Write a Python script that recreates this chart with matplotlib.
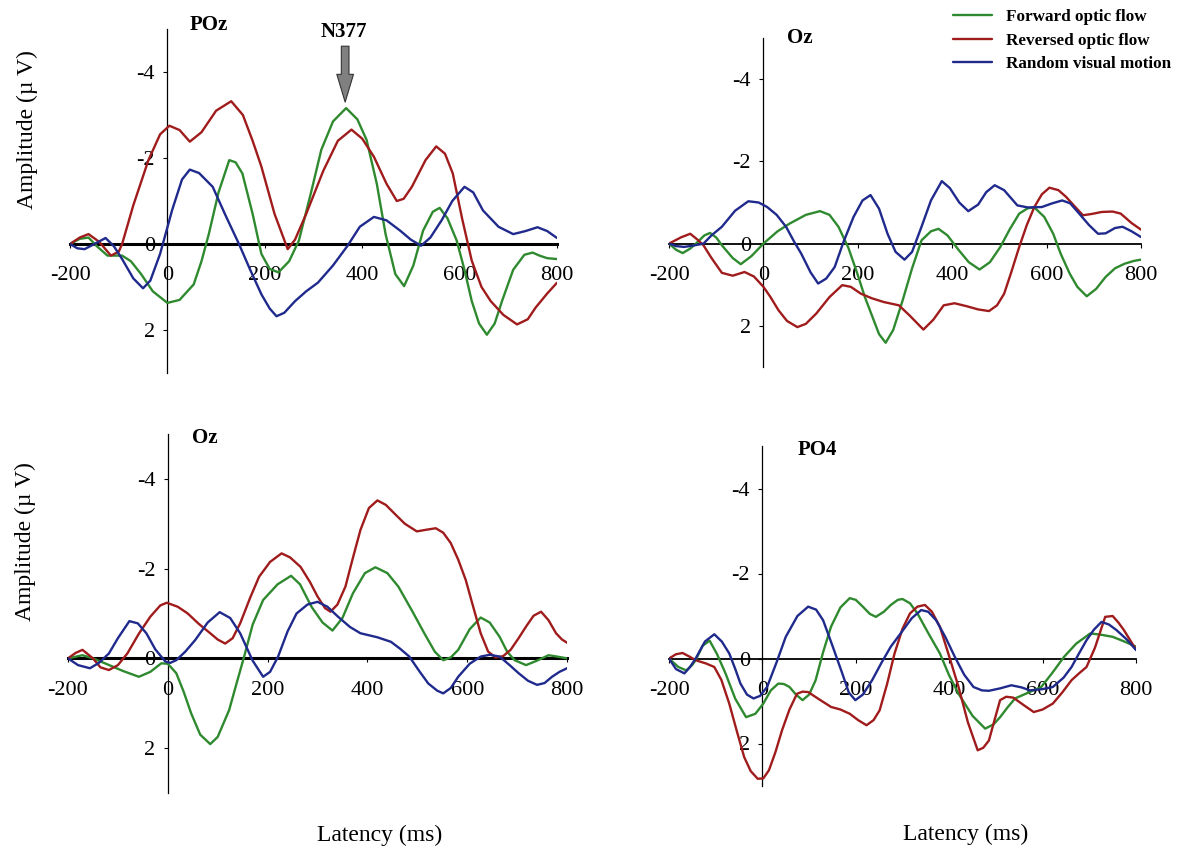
import matplotlib
matplotlib.use("Agg")
import matplotlib.pyplot as plt

plt.rcParams['font.family'] = ['Liberation Serif', 'DejaVu Serif']
plt.rcParams['axes.unicode_minus'] = False

# condition names / colours
conditions = ["Forward optic flow", "Reversed optic flow", "Random visual motion"]
colors = ["#2f8a2f", "#a01c1c", "#1f2a8c"]

x_ticks = [-200, 0, 200, 400, 600, 800]
y_ticks = [-4, -2, 0, 2]

# ---- POz (top left) ----
poz_fwd_t = [-200, -180, -162, -145, -123, -93, -75, -54, -30, 0, 25, 54, 70, 85, 105, 127, 140,
             154, 175, 193, 210, 228, 250, 270, 295, 316, 340, 367, 390, 409, 430, 448, 468, 486,
             505, 525, 545, 559, 575, 594, 610, 625, 640, 656, 672, 687, 710, 733, 750, 764, 780,
             800]
poz_fwd_v = [0, -0.12, -0.15, 0.05, 0.27, 0.27, 0.4, 0.7, 1.1, 1.37, 1.3, 0.94, 0.4, -0.23, -1.2,
             -1.95, -1.9, -1.64, -0.7, 0.23, 0.58, 0.66, 0.4, -0.08, -1.2, -2.19, -2.85, -3.16,
             -2.9, -2.42, -1.4, -0.23, 0.7, 0.98, 0.5, -0.31, -0.75, -0.84, -0.6, -0.08, 0.6,
             1.33, 1.85, 2.11, 1.85, 1.33, 0.6, 0.25, 0.2, 0.27, 0.33, 0.35]
poz_rev_t = [-200, -180, -162, -140, -116, -100, -93, -70, -39, -15, 4, 25, 46, 70, 100, 131, 155,
             175, 193, 220, 247, 262, 285, 320, 350, 378, 400, 424, 450, 471, 485, 502, 530, 552,
             570, 586, 605, 625, 645, 664, 690, 718, 740, 756, 780, 800]
poz_rev_v = [0, -0.15, -0.23, -0.05, 0.27, 0.18, 0, -0.9, -1.95, -2.55, -2.75, -2.65, -2.38, -2.6,
             -3.1, -3.32, -3.0, -2.4, -1.8, -0.7, 0.12, -0.1, -0.7, -1.7, -2.4, -2.66, -2.45,
             -2.03, -1.4, -1.0, -1.05, -1.33, -1.95, -2.27, -2.1, -1.64, -0.6, 0.39, 1.0, 1.33,
             1.65, 1.87, 1.75, 1.48, 1.15, 0.9]
poz_rnd_t = [-200, -185, -170, -150, -127, -110, -93, -70, -50, -35, -15, 10, 30, 46, 65, 93, 120,
             147, 170, 193, 210, 224, 240, 262, 285, 309, 340, 370, 395, 424, 450, 478, 500, 521,
             540, 563, 585, 610, 628, 648, 680, 710, 735, 760, 780, 800]
poz_rnd_v = [0, 0.1, 0.12, 0.0, -0.14, 0.05, 0.35, 0.8, 1.03, 0.85, 0.23, -0.8, -1.5, -1.73, -1.65,
             -1.33, -0.65, 0, 0.6, 1.17, 1.5, 1.68, 1.6, 1.33, 1.1, 0.9, 0.5, 0.04, -0.4, -0.63,
             -0.55, -0.31, -0.1, 0.04, -0.15, -0.55, -1.0, -1.33, -1.2, -0.78, -0.4, -0.23, -0.3,
             -0.39, -0.3, -0.14]

# ---- Oz (top right) ----
oz1_fwd_t = [-200, -185, -171, -155, -143, -125, -113, -100, -88, -65, -48, -25, 0, 30, 56, 90,
             120, 140, 159, 180, 199, 215, 231, 245, 259, 275, 295, 315, 335, 355, 371, 390, 414,
             435, 458, 480, 502, 522, 542, 560, 574, 595, 614, 630, 649, 665, 685, 705, 725, 745,
             765, 785, 800]
oz1_fwd_v = [0, 0.15, 0.23, 0.12, 0, -0.2, -0.26, -0.15, 0.04, 0.35, 0.5, 0.3, 0, -0.3, -0.49,
             -0.7, -0.79, -0.7, -0.41, 0.1, 0.73, 1.3, 1.78, 2.2, 2.41, 2.1, 1.38, 0.6, -0.08,
             -0.3, -0.36, -0.2, 0.16, 0.45, 0.63, 0.45, 0.08, -0.35, -0.73, -0.86, -0.88, -0.65,
             -0.24, 0.25, 0.73, 1.05, 1.28, 1.1, 0.81, 0.6, 0.49, 0.42, 0.39]
oz1_rev_t = [-200, -175, -155, -140, -127, -110, -88, -65, -40, -20, 0, 15, 32, 50, 72, 90, 112,
             140, 167, 185, 207, 230, 255, 287, 310, 339, 360, 382, 405, 430, 455, 478, 495, 510,
             525, 542, 558, 574, 590, 606, 625, 641, 660, 677, 695, 717, 740, 757, 780, 800]
oz1_rev_v = [0, -0.15, -0.24, -0.1, 0.04, 0.35, 0.71, 0.78, 0.69, 0.8, 1.05, 1.3, 1.62, 1.88, 2.03,
             1.95, 1.7, 1.3, 1.01, 1.05, 1.22, 1.33, 1.42, 1.5, 1.75, 2.09, 1.85, 1.5, 1.45, 1.52,
             1.6, 1.64, 1.5, 1.22, 0.7, 0.08, -0.45, -0.89, -1.2, -1.36, -1.3, -1.14, -0.9, -0.69,
             -0.72, -0.77, -0.78, -0.73, -0.5, -0.34]
oz1_rnd_t = [-200, -185, -168, -150, -127, -110, -88, -60, -32, -10, 8, 28, 48, 65, 80, 100, 116,
             133, 151, 170, 191, 210, 227, 245, 263, 280, 299, 315, 335, 355, 378, 395, 415, 434,
             455, 472, 490, 510, 538, 560, 590, 612, 633, 650, 669, 690, 709, 725, 745, 761, 780,
             800]
oz1_rnd_v = [0, 0.06, 0.08, 0.05, 0, -0.2, -0.41, -0.8, -1.03, -1.0, -0.89, -0.7, -0.41, -0.05,
             0.24, 0.7, 0.97, 0.85, 0.57, -0.05, -0.65, -1.05, -1.18, -0.85, -0.24, 0.2, 0.39, 0.2,
             -0.41, -1.05, -1.52, -1.35, -1.0, -0.79, -0.95, -1.25, -1.42, -1.3, -0.93, -0.88,
             -0.89, -0.98, -1.05, -0.98, -0.73, -0.45, -0.24, -0.25, -0.38, -0.41, -0.3, -0.16]

# ---- Oz (bottom left) ----
oz2_fwd_t = [-200, -171, -150, -126, -90, -58, -35, -13, 0, 17, 32, 47, 65, 85, 100, 123, 138, 153,
             170, 191, 220, 247, 265, 288, 310, 330, 350, 371, 395, 416, 440, 462, 490, 514, 535,
             552, 567, 582, 605, 627, 645, 665, 680, 695, 718, 740, 763, 780, 800]
oz2_fwd_v = [0, -0.07, 0.0, 0.11, 0.28, 0.41, 0.3, 0.11, 0.12, 0.33, 0.75, 1.23, 1.7, 1.91, 1.75,
             1.15, 0.55, -0.04, -0.75, -1.3, -1.65, -1.84, -1.65, -1.15, -0.8, -0.62, -0.9, -1.45,
             -1.9, -2.03, -1.9, -1.6, -1.05, -0.56, -0.15, 0.04, -0.02, -0.19, -0.65, -0.91, -0.8,
             -0.48, -0.15, 0.04, 0.15, 0.05, -0.07, -0.04, 0]
oz2_rev_t = [-200, -185, -171, -150, -135, -118, -100, -81, -58, -35, -15, -2, 20, 40, 62, 85, 100,
             115, 130, 145, 165, 183, 205, 228, 245, 266, 285, 300, 315, 326, 340, 356, 370, 386,
             403, 420, 437, 454, 475, 499, 520, 537, 552, 567, 582, 597, 612, 627, 642, 657, 672,
             687, 703, 718, 733, 748, 763, 778, 790, 800]
oz2_rev_v = [0, -0.12, -0.19, 0.0, 0.2, 0.26, 0.15, -0.11, -0.55, -0.93, -1.18, -1.24, -1.15,
             -1.0, -0.77, -0.56, -0.42, -0.33, -0.45, -0.78, -1.35, -1.82, -2.15, -2.34, -2.25,
             -2.04, -1.7, -1.38, -1.12, -1.04, -1.2, -1.6, -2.2, -2.86, -3.35, -3.52, -3.42, -3.23,
             -3.0, -2.83, -2.87, -2.9, -2.8, -2.57, -2.2, -1.75, -1.15, -0.56, -0.15, -0.02, -0.05,
             -0.19, -0.45, -0.71, -0.95, -1.04, -0.85, -0.56, -0.42, -0.35]
oz2_rnd_t = [-200, -180, -156, -138, -118, -100, -77, -60, -43, -25, -5, 5, 17, 35, 55, 80, 104,
             125, 145, 170, 191, 205, 221, 240, 258, 280, 300, 320, 341, 365, 386, 420, 447, 465,
             484, 505, 522, 540, 552, 567, 582, 605, 627, 645, 665, 685, 703, 722, 740, 755, 770,
             785, 800]
oz2_rnd_v = [0, 0.15, 0.22, 0.1, -0.11, -0.45, -0.83, -0.78, -0.56, -0.2, 0.07, 0.1, 0.04, -0.15,
             -0.41, -0.8, -1.03, -0.9, -0.56, 0.05, 0.41, 0.3, -0.04, -0.6, -1.0, -1.2, -1.26,
             -1.15, -0.93, -0.7, -0.56, -0.47, -0.37, -0.22, -0.04, 0.3, 0.56, 0.72, 0.78, 0.66,
             0.41, 0.12, -0.04, -0.08, -0.04, 0.15, 0.33, 0.5, 0.59, 0.55, 0.41, 0.3, 0.22]

# ---- PO4 (bottom right) ----
po4_fwd_t = [-200, -180, -163, -150, -143, -128, -113, -97, -79, -58, -35, -15, 2, 18, 34, 46, 58,
             72, 86, 100, 114, 130, 147, 167, 187, 200, 215, 230, 243, 260, 275, 290, 300, 316,
             332, 355, 380, 400, 420, 450, 477, 495, 509, 525, 541, 570, 597, 620, 646, 672, 702,
             725, 750, 775, 800]
po4_fwd_v = [0, 0.2, 0.28, 0.15, 0.04, -0.3, -0.42, -0.1, 0.35, 0.95, 1.38, 1.3, 1.06, 0.75, 0.59,
             0.6, 0.67, 0.85, 0.98, 0.85, 0.51, -0.15, -0.75, -1.2, -1.42, -1.38, -1.22, -1.05,
             -0.98, -1.1, -1.26, -1.38, -1.4, -1.3, -1.06, -0.6, -0.12, 0.4, 0.83, 1.35, 1.65,
             1.55, 1.38, 1.15, 0.94, 0.8, 0.67, 0.35, -0.04, -0.35, -0.59, -0.56, -0.51, -0.4,
             -0.28]
po4_rev_t = [-200, -185, -171, -157, -143, -120, -103, -88, -71, -55, -39, -25, -10, 2, 14, 28, 42,
             58, 74, 86, 98, 120, 147, 167, 187, 205, 223, 238, 251, 267, 283, 300, 316, 332, 348,
             363, 380, 400, 420, 440, 461, 473, 485, 497, 509, 522, 537, 560, 581, 600, 622, 642,
             662, 678, 694, 712, 734, 750, 762, 774, 800]
po4_rev_v = [0, -0.1, -0.13, -0.05, 0.04, 0.12, 0.2, 0.5, 1.06, 1.7, 2.32, 2.65, 2.83, 2.82, 2.63,
             2.2, 1.69, 1.2, 0.83, 0.78, 0.79, 0.95, 1.14, 1.2, 1.3, 1.45, 1.57, 1.45, 1.22, 0.6,
             -0.12, -0.7, -1.06, -1.22, -1.26, -1.1, -0.75, -0.05, 0.67, 1.5, 2.16, 2.1, 1.93,
             1.45, 0.98, 0.9, 0.92, 1.1, 1.26, 1.2, 1.06, 0.8, 0.51, 0.35, 0.2, -0.25, -0.98, -1.0,
             -0.85, -0.67, -0.21]
po4_rnd_t = [-200, -185, -167, -155, -143, -123, -103, -87, -71, -58, -47, -33, -19, -5, 10, 30, 50,
             75, 98, 115, 130, 150, 171, 185, 199, 215, 235, 255, 275, 300, 320, 340, 355, 372,
             392, 412, 432, 452, 470, 485, 510, 533, 555, 573, 600, 622, 645, 662, 678, 694, 710,
             726, 742, 758, 780, 800]
po4_rnd_v = [0, 0.25, 0.35, 0.2, 0, -0.4, -0.57, -0.4, -0.12, 0.25, 0.59, 0.85, 0.94, 0.88, 0.67,
             0.1, -0.51, -1.0, -1.22, -1.15, -0.9, -0.3, 0.35, 0.8, 0.98, 0.85, 0.51, 0.1, -0.28,
             -0.65, -0.95, -1.14, -1.1, -0.9, -0.5, -0.04, 0.38, 0.67, 0.75, 0.76, 0.7, 0.63, 0.68,
             0.75, 0.72, 0.67, 0.45, 0.2, -0.12, -0.43, -0.68, -0.86, -0.8, -0.67, -0.45, -0.2]

W, H = 1182, 852


def px_box(x0, x1, y_top, y_bot):
    # pixel box -> figure fraction rect
    return [x0 / W, 1 - y_bot / H, (x1 - x0) / W, (y_bot - y_top) / H]


def setup_axes(ax, zero_lw):
    ax.set_xlim(-200, 800)
    ax.set_ylim(3, -5)
    ax.spines['top'].set_visible(False)
    ax.spines['right'].set_visible(False)
    ax.spines['left'].set_position(('data', 0))
    ax.spines['bottom'].set_position(('data', 0))
    ax.spines['left'].set_linewidth(0.9)
    ax.spines['bottom'].set_linewidth(zero_lw)
    ax.spines['bottom'].set_zorder(1)
    ax.set_xticks(x_ticks)
    ax.set_yticks(y_ticks)
    ax.tick_params(axis='x', direction='out', length=3, width=0.8, pad=13, labelsize=16)
    ax.tick_params(axis='y', direction='out', length=3, width=0.8, pad=6, labelsize=16)
    ax.patch.set_visible(False)


fig = plt.figure(figsize=(W / 100, H / 100), dpi=100)

panels = [
    (px_box(70, 557, 29, 373), 2.2,
     [(poz_fwd_t, poz_fwd_v), (poz_rev_t, poz_rev_v), (poz_rnd_t, poz_rnd_v)]),
    (px_box(669, 1141, 38, 367), 1.3,
     [(oz1_fwd_t, oz1_fwd_v), (oz1_rev_t, oz1_rev_v), (oz1_rnd_t, oz1_rnd_v)]),
    (px_box(68, 567, 434, 793), 2.2,
     [(oz2_fwd_t, oz2_fwd_v), (oz2_rev_t, oz2_rev_v), (oz2_rnd_t, oz2_rnd_v)]),
    (px_box(669, 1136, 446, 786), 1.3,
     [(po4_fwd_t, po4_fwd_v), (po4_rev_t, po4_rev_v), (po4_rnd_t, po4_rnd_v)]),
]

axes = []
handles = []
for rect, zlw, series in panels:
    ax = fig.add_axes(rect)
    setup_axes(ax, zlw)
    hs = []
    for (t, v), c, lab in zip(series, colors, conditions):
        h, = ax.plot(t, v, color=c, lw=1.7, solid_joinstyle='round', solid_capstyle='round',
                     label=lab, zorder=3)
        hs.append(h)
    handles = hs
    axes.append(ax)

# electrode titles
title_pos = [(209, 25, "POz"), (800, 38, "Oz"), (205, 438, "Oz"), (817, 450, "PO4")]
for x, y, s in title_pos:
    fig.text(x / W, 1 - y / H, s, fontsize=15, fontweight='bold', ha='center', va='center')

# N377 marker
ax0 = axes[0]
ax0.text(362, -4.92, "N377", fontsize=15, fontweight='bold', ha='center', va='center')
ax0.annotate("", xy=(365, -3.3), xytext=(365, -4.6),
             arrowprops=dict(arrowstyle='simple,head_width=1.2,head_length=2.0,tail_width=0.55',
                             fc='#808080', ec='#333333', lw=0.8, mutation_scale=10,
                             shrinkA=0, shrinkB=0))

# axis labels
fig.text(27 / W, 1 - 130 / H, "Amplitude (\u00b5 V)", rotation=90, fontsize=17,
         ha='center', va='center')
fig.text(25 / W, 1 - 542 / H, "Amplitude (\u00b5 V)", rotation=90, fontsize=17,
         ha='center', va='center')
fig.text(380 / W, 1 - 835 / H, "Latency (ms)", fontsize=17, ha='center', va='center')
fig.text(966 / W, 1 - 834 / H, "Latency (ms)", fontsize=17, ha='center', va='center')

fig.legend(handles, conditions, loc='upper left', bbox_to_anchor=(946 / W, 1 - 2 / H),
           frameon=False, prop={'weight': 'bold', 'size': 12.3}, handlelength=2.3,
           handletextpad=0.8, labelspacing=0.45, borderaxespad=0)

fig.savefig("out.png", dpi=100)
